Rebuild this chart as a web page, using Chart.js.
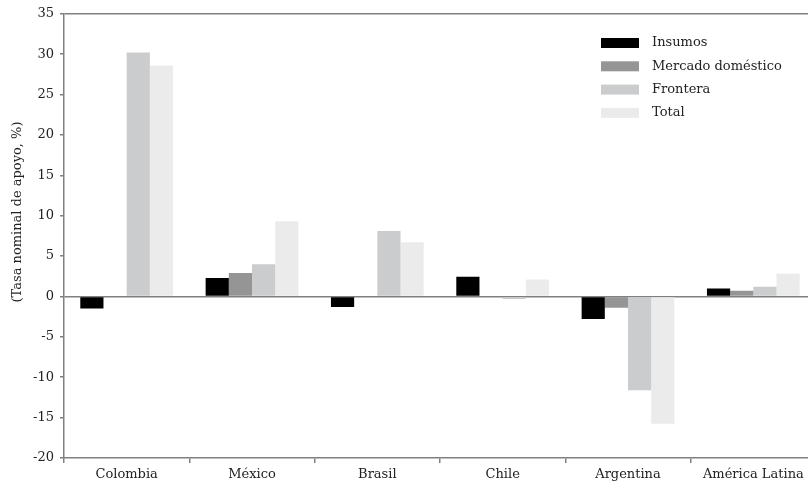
<!DOCTYPE html>
<html>
<head>
<meta charset="utf-8">
<script src="https://cdn.jsdelivr.net/npm/chart.js@4/dist/chart.umd.min.js"></script>
<style>
  html, body { margin: 0; padding: 0; background: #fff; overflow: hidden; }
  #wrap { width: 816px; height: 491px; }
</style>
</head>
<body>
<div id="wrap"><canvas id="chart" width="816" height="491"></canvas></div>
<script>
const categories = ["Colombia", "México", "Brasil", "Chile", "Argentina", "América Latina"];
const insumos = [-1.5, 2.3, -1.3, 2.45, -2.8, 1.0];
const mercadoDomestico = [0, 2.9, 0, 0, -1.4, 0.7];
const frontera = [30.2, 4.0, 8.1, -0.3, -11.6, 1.2];
const total = [28.6, 9.3, 6.7, 2.1, -15.75, 2.8];
const yTicks = [35, 30, 25, 20, 15, 10, 5, 0, -5, -10, -15, -20];

const FONT = "'DejaVu Serif', serif";
const AXIS = "#808080";

// legend drawn in the top-right corner of the plot, one row per dataset
const sideLegend = {
  id: "sideLegend",
  afterDraw(chart) {
    const c = chart.ctx;
    c.save();
    c.font = "13px " + FONT;
    c.textBaseline = "middle";
    chart.data.datasets.forEach((ds, i) => {
      const y = 43 + i * 23.3;
      c.fillStyle = ds.backgroundColor;
      c.fillRect(601, y - 5, 38, 10);
      c.fillStyle = "#222";
      c.fillText(ds.label, 652, y);
    });
    c.restore();
  }
};

// rotated y title, a bit above the middle of the axis
const yTitle = {
  id: "yTitle",
  afterDraw(chart) {
    const c = chart.ctx;
    c.save();
    c.translate(18, 212);
    c.rotate(-Math.PI / 2);
    c.font = "13px " + FONT;
    c.fillStyle = "#222";
    c.textAlign = "center";
    c.textBaseline = "middle";
    c.fillText("(Tasa nominal de apoyo, %)", 0, 0);
    c.restore();
  }
};

const ctx = document.getElementById("chart").getContext("2d");
new Chart(ctx, {
  type: "bar",
  data: {
    labels: categories,
    datasets: [
      { label: "Insumos", data: insumos, backgroundColor: "#000000" },
      { label: "Mercado doméstico", data: mercadoDomestico, backgroundColor: "#959595" },
      { label: "Frontera", data: frontera, backgroundColor: "#cbcccd" },
      { label: "Total", data: total, backgroundColor: "#eaebea" },
    ],
  },
  options: {
    responsive: false,
    animation: false,
    layout: { padding: { top: 10, right: 0, left: 0, bottom: 0 } },
    datasets: { bar: { categoryPercentage: 0.74, barPercentage: 1.0 } },
    plugins: { legend: { display: false }, tooltip: { enabled: false } },
    scales: {
      x: {
        grid: { offset: true, drawOnChartArea: false, tickLength: 5, tickColor: AXIS, lineWidth: 1.5 },
        border: { color: AXIS, width: 1.5 },
        ticks: { font: { family: FONT, size: 13 }, color: "#222", padding: 4, maxRotation: 0 },
        afterFit(scale) { scale.height = 33; },
      },
      y: {
        min: -20,
        max: 35,
        afterBuildTicks(scale) { scale.ticks = yTicks.map(v => ({ value: v })); },
        grid: {
          color: c => (c.tick && (c.tick.value === 0 || c.tick.value === 35)) ? AXIS : "rgba(0,0,0,0)",
          lineWidth: 1.5,
          tickColor: AXIS,
          tickLength: 4,
        },
        border: { color: AXIS, width: 1.5 },
        ticks: { font: { family: FONT, size: 13 }, color: "#222", padding: 6 },
        afterFit(scale) { scale.width = 64; },
      },
    },
  },
  plugins: [sideLegend, yTitle],
});
</script>
</body>
</html>
